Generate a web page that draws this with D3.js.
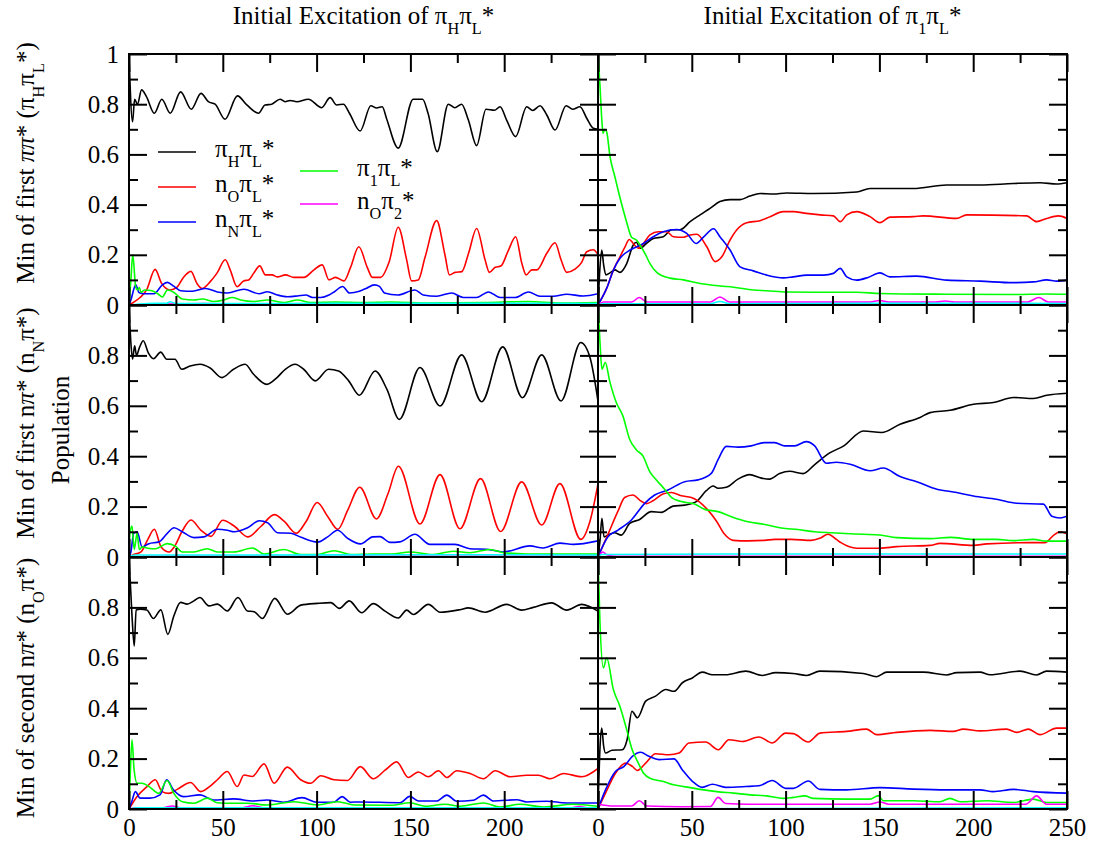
<!DOCTYPE html>
<html><head><meta charset="utf-8">
<script src="https://cdn.jsdelivr.net/npm/d3@7"></script>
<style>
body{margin:0;background:#fff}
svg{display:block}
</style>
</head><body>
<svg id="c" width="1094" height="844" font-family="Liberation Serif"></svg>
<script>
// ---------------- DATA (time in fs, population) ----------------
const xMajor = [0,50,100,150,200,250];
const xMinor = [25,75,125,175,225];
const yMajor = [0,0.2,0.4,0.6,0.8,1];
const yMinor = [0.1,0.3,0.5,0.7,0.9];
const xLabelsLeft = [0,50,100,150,200];
const xLabelsRight = [0,50,100,150,200,250];
const yLabelsTop = [0,0.2,0.4,0.6,0.8,1];
const yLabelsOther = [0,0.2,0.4,0.6,0.8];

const colTitles = ["Initial Excitation of π_Hπ_L*", "Initial Excitation of π_1π_L*"];
const rowTitles = ["Min of first ~ππ~* (π_Hπ_L*)", "Min of first n~π~* (n_Nπ*)", "Min of second n~π~* (n_Oπ*)"];
const legendLabels = ["π_Hπ_L*", "n_Oπ_L*", "n_Nπ_L*", "π_1π_L*", "n_Oπ_2*"];
const seriesNames = ["black","red","blue","green","magenta","cyan"];

// Row 1, left: initial excitation of pi_H pi_L*
const L1_black = [[0,1.0],[1.9,0.73],[3,0.82],[4.5,0.80],[6.7,0.857],[9.3,0.83],[13.5,0.764],[17.5,0.82],[22,0.764],[27.5,0.849],[33.2,0.78],[38.4,0.843],[42.3,0.81],[45.9,0.80],[51.2,0.74],[57.8,0.833],[62.8,0.797],[69,0.764],[72.5,0.797],[76.1,0.80],[80.5,0.82],[83.2,0.81],[85.9,0.815],[89.4,0.81],[95.6,0.82],[102.7,0.786],[107.2,0.826],[110.7,0.797],[114.3,0.80],[117.5,0.764],[123.2,0.693],[128.9,0.794],[132,0.785],[135,0.79],[137.4,0.74],[143.5,0.625],[151.5,0.82],[156.5,0.82],[159.4,0.764],[164.3,0.611],[170.2,0.80],[173.7,0.786],[177.3,0.80],[180.9,0.737],[185.3,0.635],[190.3,0.78],[194.8,0.776],[197.8,0.79],[201.3,0.737],[206.1,0.671],[212,0.79],[215.2,0.775],[219.1,0.794],[222.7,0.757],[227.1,0.697],[233,0.794],[236.5,0.78],[240.4,0.79],[244,0.744],[247.5,0.704],[250,0.70]];
const L1_red = [[0,0],[2.3,0.01],[5.9,0.03],[9.4,0.06],[13.9,0.142],[17.4,0.086],[21.9,0.06],[25.5,0.07],[29,0.11],[33,0.134],[36.2,0.086],[38.9,0.066],[43.3,0.093],[46.9,0.127],[51.3,0.18],[54,0.139],[57.6,0.073],[61.1,0.096],[63.8,0.10],[66.5,0.127],[69.7,0.156],[72.7,0.12],[76.3,0.12],[79,0.112],[83.4,0.12],[87.9,0.11],[93.2,0.11],[98.6,0.14],[103,0.16],[106.6,0.10],[110.1,0.11],[114.6,0.096],[118.1,0.15],[122.5,0.232],[127,0.15],[129.7,0.11],[134.1,0.11],[138.6,0.17],[143.5,0.31],[148,0.18],[150.6,0.096],[154.2,0.10],[157.8,0.19],[164,0.336],[168.4,0.20],[170.8,0.12],[173.8,0.13],[177.4,0.133],[181,0.206],[185.3,0.305],[189.8,0.18],[192.1,0.13],[195.2,0.15],[198.2,0.155],[202.3,0.219],[206.1,0.272],[209.4,0.166],[211.7,0.12],[214.7,0.14],[217.4,0.14],[222.7,0.206],[227.1,0.248],[230.3,0.18],[233.3,0.13],[237.7,0.143],[241.3,0.17],[244,0.212],[247.5,0.22],[250,0.2]];
const L1_blue = [[0,0],[1,0.02],[3.6,0.08],[5.3,0.05],[8,0.045],[13.3,0.045],[17.8,0.08],[20.4,0.09],[24,0.074],[27.5,0.057],[33.8,0.055],[40.9,0.066],[47.1,0.052],[52.4,0.048],[61.3,0.063],[69.3,0.045],[73.8,0.053],[79.1,0.04],[84.5,0.033],[89.8,0.036],[94.3,0.04],[97.8,0.03],[102.3,0.03],[106.6,0.04],[109.5,0.053],[113.9,0.074],[117.5,0.048],[122.8,0.055],[126.4,0.066],[130.8,0.08],[133.5,0.074],[136.2,0.048],[143.3,0.04],[152.4,0.06],[156.8,0.04],[164,0.035],[172,0.048],[178.2,0.03],[185.3,0.03],[191.6,0.052],[197.8,0.03],[205.8,0.03],[212.9,0.052],[219.1,0.035],[226.2,0.035],[233.3,0.043],[242.2,0.036],[250,0.045]];
const L1_green = [[0,0],[1,0.1],[2,0.2],[3.6,0.07],[4.6,0.06],[5.5,0.07],[6.4,0.05],[8.2,0.06],[11.7,0.058],[15.3,0.045],[17.8,0.032],[20.5,0.06],[24,0.05],[28.4,0.024],[34.6,0.02],[39,0.024],[45.3,0.014],[50.6,0.02],[55,0.03],[59.5,0.02],[66.5,0.014],[73.8,0.02],[82.6,0.01],[89.8,0.02],[96.8,0.01],[110,0.012],[125,0.01],[140,0.012],[160,0.008],[190,0.01],[213,0.014],[230,0.008],[250,0.01]];
const L1_magenta = [[0,0],[20,0.004],[40,0.006],[60,0.003],[100,0.004],[150,0.004],[200,0.003],[250,0.004]];
const L1_cyan = [[0,0],[10,0.006],[20,0.007],[22,0.013],[25,0.006],[80,0.006],[150,0.007],[250,0.006]];

// Row 1, right: initial excitation of pi_1 pi_L*
const R1_black = [[0,0.0],[0.8,0.12],[2,0.219],[3,0.16],[4.2,0.12],[6.4,0.128],[9,0.14],[11.7,0.13],[15.3,0.165],[18.8,0.239],[20.5,0.25],[22.4,0.226],[25.9,0.246],[29.5,0.265],[34.8,0.272],[39.3,0.3],[43.7,0.3],[49.1,0.332],[54.4,0.359],[59.7,0.385],[65,0.412],[70.4,0.42],[75.7,0.42],[81,0.434],[86.4,0.444],[93.5,0.442],[100.6,0.446],[114.8,0.444],[137.9,0.45],[145,0.464],[168.1,0.464],[185.9,0.478],[203.7,0.478],[221.4,0.484],[235.7,0.487],[244.5,0.482],[250,0.487]];
const R1_red = [[0,0],[4.6,0.066],[8.2,0.139],[11.7,0.192],[14.4,0.232],[16.7,0.261],[18.8,0.245],[21.5,0.226],[24.2,0.245],[27.7,0.279],[32.2,0.292],[36.6,0.292],[40.2,0.272],[45.5,0.27],[49.1,0.279],[52.6,0.282],[58,0.232],[62.4,0.173],[66,0.192],[70.4,0.259],[73.9,0.299],[79.3,0.328],[86.4,0.336],[91.7,0.352],[98.8,0.372],[104.1,0.372],[111,0.365],[118.4,0.359],[125.5,0.355],[129.1,0.332],[132.6,0.359],[137.9,0.372],[145,0.352],[150.3,0.328],[155.6,0.35],[168.1,0.352],[173.4,0.355],[191.2,0.345],[196.5,0.359],[228.5,0.355],[233.8,0.332],[239.2,0.345],[245.4,0.355],[250,0.345]];
const R1_blue = [[0,0],[4.6,0.066],[8.2,0.139],[11.7,0.186],[17.1,0.219],[20.6,0.232],[24.2,0.245],[29.5,0.272],[34.8,0.292],[41.9,0.301],[47.3,0.285],[52.3,0.245],[56.2,0.27],[61.6,0.304],[65,0.272],[70.4,0.219],[75.7,0.152],[82.8,0.136],[90,0.119],[98.8,0.108],[104,0.112],[111.3,0.119],[120.2,0.119],[125.5,0.126],[129.1,0.146],[132.6,0.112],[137.9,0.099],[144,0.11],[150.3,0.128],[155.6,0.112],[169.9,0.115],[185.9,0.099],[203.7,0.095],[221.4,0.089],[232.1,0.092],[239.2,0.1],[244.5,0.095],[250,0.099]];
const R1_green = [[0,1.0],[1,0.88],[2.2,0.72],[2.7,0.684],[3.5,0.70],[4.6,0.69],[6.4,0.591],[9,0.511],[11.6,0.431],[15.2,0.332],[17.9,0.27],[20.5,0.259],[22.4,0.239],[25,0.206],[27.7,0.165],[31.3,0.13],[38.4,0.107],[45.5,0.1],[54.4,0.086],[65,0.076],[72.2,0.071],[82.8,0.06],[90,0.057],[100.6,0.052],[114.8,0.051],[137.9,0.051],[150.3,0.046],[185.9,0.043],[221.4,0.042],[239.2,0.044],[250,0.043]];
const R1_magenta = [[0,0.0],[3,0.012],[18,0.012],[22,0.03],[26,0.012],[60,0.012],[65,0.032],[70,0.012],[145,0.012],[150,0.018],[155,0.012],[180,0.012],[185,0.016],[190,0.012],[229,0.012],[235,0.03],[240,0.012],[250,0.012]];
const R1_cyan = [[0,0],[3,0.005],[60,0.005],[65,0.014],[70,0.005],[150,0.007],[250,0.006]];

// Row 2, left
const L2_black = [[0,1.0],[1,0.85],[1.9,0.785],[3,0.838],[4,0.8],[5.5,0.83],[7.6,0.858],[10.3,0.81],[13,0.787],[16.9,0.813],[20.1,0.785],[24.5,0.785],[28.1,0.745],[32.6,0.758],[37.9,0.765],[43.3,0.75],[49.5,0.712],[55.7,0.745],[61.9,0.765],[66.4,0.725],[73.5,0.685],[78.9,0.712],[83.3,0.745],[88.6,0.765],[93.1,0.745],[99.3,0.699],[106.4,0.745],[111.7,0.738],[117.1,0.699],[122.8,0.642],[131.2,0.738],[137.5,0.665],[144.1,0.546],[155.1,0.752],[165.8,0.599],[177.3,0.802],[188,0.616],[199.2,0.834],[209.7,0.632],[220,0.802],[230.3,0.619],[240.8,0.851],[245.8,0.79],[250,0.619]];
const L2_red = [[0,0],[2,0.008],[6.4,0.02],[9.9,0.068],[13.5,0.11],[17.1,0.04],[21.5,0.02],[24.1,0.04],[28.6,0.106],[33,0.147],[38.4,0.106],[43.7,0.082],[49.9,0.146],[56.2,0.122],[63.3,0.08],[70.4,0.122],[77.5,0.168],[82.8,0.141],[89.1,0.094],[94.4,0.141],[100.3,0.216],[106,0.16],[111.3,0.11],[116.6,0.186],[123,0.277],[131.9,0.151],[138,0.25],[143.6,0.36],[155.1,0.131],[165.8,0.327],[176.4,0.112],[187.4,0.311],[198.1,0.101],[209.3,0.298],[220,0.127],[229.7,0.291],[240.8,0.07],[245.8,0.144],[250,0.29]];
const L2_blue = [[0,0],[1,0.02],[2.5,0.094],[4.3,0.1],[7,0.04],[10.6,0.053],[16,0.06],[20.4,0.094],[24,0.116],[28.4,0.1],[34.6,0.077],[40,0.08],[47.1,0.11],[52.4,0.106],[56,0.1],[63.2,0.116],[69.4,0.144],[73.9,0.136],[79.2,0.096],[86.3,0.094],[91.7,0.078],[100.5,0.059],[105.9,0.08],[111.2,0.106],[116.6,0.074],[123.4,0.052],[129.9,0.08],[133.8,0.081],[139.1,0.058],[144.4,0.06],[152.4,0.09],[160.4,0.05],[173.7,0.05],[181.7,0.033],[190.6,0.031],[199.5,0.02],[213.7,0.044],[220.8,0.036],[229.7,0.055],[236.8,0.05],[250,0.064]];
const L2_green = [[0,0],[0.5,0.094],[1.6,0.123],[2.8,0.03],[4.3,0.094],[5.5,0.03],[7,0.04],[10,0.035],[14.2,0.033],[20.4,0.053],[24.9,0.042],[28.4,0.02],[34.6,0.02],[41.7,0.033],[47,0.02],[56,0.02],[65.8,0.036],[72,0.012],[82.6,0.03],[91.5,0.01],[100.4,0.01],[109.3,0.025],[118.2,0.01],[130.6,0.012],[140,0.012],[149.7,0.02],[162.2,0.01],[172.8,0.023],[181.7,0.017],[192.3,0.03],[199.5,0.017],[212,0.012],[230,0.012],[250,0.012]];
const L2_magenta = [[0,0],[10,0.003],[100,0.003],[250,0.003]];
const L2_cyan = [[0,0],[3,0.008],[60,0.008],[150,0.009],[250,0.008]];

// Row 2, right
const R2_black = [[0,0.0],[1,0.06],[2.1,0.154],[3.2,0.08],[5.3,0.087],[8.9,0.096],[12.4,0.087],[16.9,0.133],[22.2,0.149],[28.4,0.18],[33.8,0.177],[40,0.202],[46.2,0.206],[52.4,0.22],[57.7,0.263],[61.3,0.282],[64,0.273],[68.4,0.277],[74.6,0.309],[80.8,0.327],[87.1,0.313],[91.5,0.309],[96.8,0.331],[102.2,0.34],[109.3,0.331],[115.5,0.367],[123.5,0.413],[130.8,0.44],[141.5,0.5],[151.2,0.494],[161,0.527],[171.7,0.554],[177,0.573],[187.7,0.582],[200.1,0.606],[210.8,0.613],[221.4,0.633],[232.1,0.629],[239.2,0.642],[250,0.65]];
const R2_red = [[0,0],[5.3,0.09],[10.7,0.183],[14.2,0.236],[18.7,0.246],[22.2,0.226],[25.8,0.212],[29.3,0.223],[34.6,0.25],[39.1,0.256],[44.4,0.243],[49.8,0.236],[53.3,0.223],[58.6,0.186],[63.1,0.143],[67.5,0.09],[72,0.066],[80,0.064],[88.8,0.066],[94.2,0.07],[103,0.07],[113.7,0.066],[118.2,0.074],[122.6,0.09],[127,0.07],[129.5,0.057],[137.9,0.035],[150.3,0.035],[159.2,0.041],[177,0.046],[182.3,0.054],[200.1,0.046],[207.2,0.052],[230.3,0.057],[238.3,0.057],[242.4,0.083],[246.3,0.1],[250,0.092]];
const R2_blue = [[0,0],[5.3,0.08],[10.7,0.107],[17.8,0.147],[24.9,0.213],[30.2,0.246],[37.3,0.266],[46.2,0.299],[53.3,0.306],[60.4,0.332],[64,0.386],[68.4,0.439],[74.6,0.436],[81.7,0.441],[88.8,0.454],[94.2,0.454],[99.5,0.441],[104.8,0.441],[111,0.458],[115.5,0.441],[121.7,0.372],[127,0.376],[134.4,0.368],[145,0.342],[152.1,0.353],[161,0.319],[169.9,0.299],[180.6,0.269],[191.2,0.256],[200.1,0.242],[212.5,0.229],[223.2,0.213],[237.4,0.21],[241.9,0.162],[246.3,0.155],[250,0.162]];
const R2_green = [[0,1.0],[1,0.86],[2.1,0.745],[3.9,0.772],[6.2,0.699],[9.8,0.612],[13.3,0.559],[16.9,0.466],[20.4,0.426],[24,0.4],[27.5,0.34],[31.1,0.306],[35.5,0.269],[39.1,0.237],[44.4,0.22],[51.5,0.21],[56.9,0.189],[64,0.18],[71.1,0.16],[80,0.14],[88.8,0.129],[97.7,0.115],[106.6,0.109],[115.5,0.1],[124.4,0.096],[141.5,0.09],[150.3,0.087],[159.2,0.077],[177,0.073],[187.7,0.078],[200.1,0.07],[212.5,0.07],[221.4,0.065],[232.1,0.07],[239.2,0.063],[250,0.063]];
const R2_magenta = [[0,0.0],[1,0.01],[2.5,0.02],[5,0.008],[10,0.003],[250,0.003]];
const R2_cyan = [[0,0.0],[2,0.01],[100,0.012],[250,0.012]];

// Row 3, left
const L3_black = [[0,1.0],[1.6,0.766],[2.8,0.647],[3.8,0.79],[6,0.793],[9.5,0.79],[13,0.756],[17,0.79],[20.7,0.693],[23.9,0.766],[27.5,0.82],[31,0.813],[34.6,0.826],[37.8,0.839],[42.6,0.806],[47.1,0.813],[52.4,0.786],[58.1,0.839],[63.1,0.786],[66.7,0.783],[71.1,0.756],[77.7,0.836],[84.5,0.773],[91.6,0.809],[100.5,0.816],[107.6,0.819],[112.1,0.796],[117.4,0.826],[124,0.779],[130.2,0.815],[136.5,0.785],[143.6,0.758],[148,0.789],[151.6,0.772],[159.6,0.812],[165.8,0.781],[176.4,0.791],[180.9,0.798],[189.8,0.781],[201.3,0.812],[209.3,0.789],[215.5,0.8],[225.3,0.818],[233.3,0.789],[241.3,0.812],[250,0.785]];
const L3_red = [[0,0],[4.2,0.049],[9.6,0.089],[14,0.116],[17.6,0.069],[21.2,0.062],[25.7,0.078],[32.8,0.105],[38.2,0.069],[43.5,0.092],[47.1,0.116],[52.4,0.149],[57.7,0.089],[61.3,0.135],[65.7,0.129],[72,0.179],[77.3,0.102],[84.4,0.166],[91.5,0.116],[96.8,0.102],[102.2,0.132],[109.3,0.116],[116.4,0.113],[123.3,0.168],[130.2,0.12],[136.5,0.154],[142.7,0.187],[148.9,0.125],[154.2,0.147],[159.6,0.128],[164.9,0.152],[169.4,0.125],[174.7,0.152],[181.8,0.141],[188.9,0.12],[195.2,0.152],[203.2,0.128],[212,0.134],[218.3,0.134],[224.5,0.12],[231.6,0.141],[241.4,0.128],[250,0.161]];
const L3_blue = [[0,0],[1.5,0.03],[3.4,0.069],[5.9,0.043],[11.2,0.043],[16.5,0.056],[20.1,0.116],[23.7,0.076],[29,0.049],[37.9,0.056],[45,0.036],[55.7,0.04],[66.4,0.032],[73.5,0.036],[82.4,0.027],[92.2,0.045],[100.2,0.027],[109.1,0.027],[113.6,0.049],[118,0.027],[123,0.028],[144.4,0.025],[149.7,0.05],[154.2,0.032],[164,0.032],[169.4,0.055],[174.7,0.031],[183.6,0.035],[188.9,0.055],[194.3,0.032],[206.7,0.037],[212,0.028],[222.7,0.031],[233.3,0.024],[250,0.024]];
const L3_green = [[0,0],[0.5,0.102],[1.6,0.275],[2.7,0.157],[4.3,0.102],[6.9,0.102],[11.4,0.085],[15.8,0.062],[20.3,0.113],[23.9,0.062],[28.4,0.029],[34.6,0.023],[41.7,0.043],[47,0.025],[56,0.023],[63.1,0.023],[73.8,0.016],[88,0.029],[100.5,0.016],[111.2,0.029],[120.1,0.016],[140,0.015],[149.7,0.025],[158,0.011],[168.5,0.019],[176.4,0.011],[188.9,0.024],[198,0.008],[208.4,0.019],[221,0.008],[236.8,0.019],[250,0.011]];
const L3_magenta = [[0,0],[5,0.005],[18,0.005],[23,0.012],[28,0.004],[60,0.004],[66,0.013],[72,0.004],[150,0.004],[235,0.004],[240,0.01],[245,0.004],[250,0.004]];
const L3_cyan = [[0,0],[5,0.005],[250,0.005]];

// Row 3, right
const R3_black = [[0,0.0],[1.1,0.249],[2,0.321],[3,0.25],[4,0.222],[7.5,0.233],[12.9,0.235],[15.5,0.275],[18.1,0.388],[21,0.362],[25.4,0.428],[30.7,0.448],[36.1,0.474],[40.5,0.467],[45,0.501],[50.3,0.52],[55.6,0.543],[61,0.533],[68.1,0.533],[78.8,0.547],[87.6,0.53],[94.8,0.541],[104,0.538],[111.2,0.53],[118.3,0.547],[141.4,0.538],[148.5,0.525],[153.9,0.543],[173.4,0.543],[185.8,0.532],[191.2,0.541],[203.6,0.543],[209,0.533],[225,0.547],[233.8,0.532],[239.1,0.547],[250,0.543]];
const R3_red = [[0,0],[4,0.063],[9.4,0.143],[14.7,0.182],[18.3,0.169],[21,0.153],[25.4,0.182],[30.7,0.219],[37.8,0.215],[43.2,0.222],[48.5,0.262],[57.4,0.266],[64.1,0.235],[69.8,0.275],[76.9,0.268],[85.8,0.286],[92.9,0.262],[100,0.301],[104.1,0.299],[112.1,0.266],[118.3,0.301],[132.5,0.308],[143.2,0.317],[148.5,0.295],[159.2,0.304],[177,0.312],[189.4,0.308],[194.7,0.317],[203.6,0.31],[217.8,0.317],[223.2,0.304],[229.4,0.317],[235.6,0.295],[244.5,0.321],[250,0.321]];
const R3_blue = [[0,0],[4,0.076],[9.4,0.15],[13.9,0.169],[18.3,0.209],[22.7,0.225],[27.2,0.209],[32.5,0.196],[40.5,0.199],[45,0.155],[50.3,0.11],[55.6,0.086],[61,0.098],[68.1,0.086],[78.8,0.089],[85.8,0.092],[92.9,0.113],[100,0.082],[104.1,0.082],[112.1,0.111],[118.3,0.078],[132.5,0.076],[150.3,0.085],[168.1,0.079],[185.8,0.076],[203.6,0.076],[210.7,0.069],[221.4,0.078],[232,0.069],[250,0.063]];
const R3_green = [[0,1.0],[1,0.75],[2.9,0.56],[4.6,0.6],[8.2,0.474],[11.7,0.407],[15.3,0.315],[17.9,0.242],[21.5,0.182],[24.2,0.143],[27.7,0.122],[34.8,0.109],[40.2,0.096],[45.5,0.089],[54.4,0.078],[63.3,0.069],[72.2,0.063],[81,0.056],[89.9,0.052],[98.8,0.042],[104.1,0.046],[110.3,0.052],[114.8,0.042],[132.5,0.039],[145,0.039],[149.4,0.053],[152.1,0.033],[168.1,0.033],[182.3,0.029],[187.6,0.042],[193,0.029],[207.2,0.033],[221.4,0.026],[232,0.039],[239.1,0.026],[250,0.026]];
const R3_magenta = [[0,0.02],[8,0.012],[18,0.012],[22,0.033],[26,0.012],[45,0.009],[60,0.01],[64,0.046],[68,0.022],[80,0.019],[145,0.019],[150.3,0.028],[155,0.019],[228,0.019],[233.8,0.052],[239,0.019],[250,0.019]];
const R3_cyan = [[0,0],[250,0.005]];

// ---------------- LAYOUT / STYLE ----------------
const colors = {black:"#000000", red:"#ff0000", blue:"#0000ff", green:"#00ff00", magenta:"#ff00ff", cyan:"#00ffff"};
const FS = 25;
const FONT = "Liberation Serif";
const colX = [[129,598],[598,1067]];
const rowY = [[305,54],[557,305],[809,557]];

const panels = [
  {r:0,c:0,d:{black:L1_black,red:L1_red,blue:L1_blue,green:L1_green,magenta:L1_magenta,cyan:L1_cyan}},
  {r:0,c:1,d:{black:R1_black,red:R1_red,blue:R1_blue,green:R1_green,magenta:R1_magenta,cyan:R1_cyan}},
  {r:1,c:0,d:{black:L2_black,red:L2_red,blue:L2_blue,green:L2_green,magenta:L2_magenta,cyan:L2_cyan}},
  {r:1,c:1,d:{black:R2_black,red:R2_red,blue:R2_blue,green:R2_green,magenta:R2_magenta,cyan:R2_cyan}},
  {r:2,c:0,d:{black:L3_black,red:L3_red,blue:L3_blue,green:L3_green,magenta:L3_magenta,cyan:L3_cyan}},
  {r:2,c:1,d:{black:R3_black,red:R3_red,blue:R3_blue,green:R3_green,magenta:R3_magenta,cyan:R3_cyan}},
];

const svg = d3.select("#c");

// rich text: "_X" = subscript char, "~...~" = italic
function rich(sel, str, fs) {
  const parts = []; let buf = ""; let ital = false;
  for (let i = 0; i < str.length; i++) {
    const ch = str[i];
    if (ch === "_") { if (buf) parts.push({t:buf,sub:false,it:ital}); buf=""; parts.push({t:str[i+1],sub:true,it:ital}); i++; }
    else if (ch === "~") { if (buf) parts.push({t:buf,sub:false,it:ital}); buf=""; ital = !ital; }
    else buf += ch;
  }
  if (buf) parts.push({t:buf,sub:false,it:ital});
  let cur = 0;
  parts.forEach(p => {
    const target = p.sub ? fs*0.38 : 0;
    const ts = sel.append("tspan").attr("dy", target - cur).attr("font-size", p.sub ? fs*0.65 : fs)
      .attr("font-family", FONT).text(p.t);
    if (p.it) ts.attr("font-style","italic");
    cur = target;
  });
}

const defs = svg.append("defs");

panels.forEach((p, i) => {
  const [x0, x1] = colX[p.c];
  const [y0, y1] = rowY[p.r];
  const xs = d3.scaleLinear().domain([0,250]).range([x0,x1]);
  const ys = d3.scaleLinear().domain([0,1]).range([y0,y1]);
  const g = svg.append("g");

  defs.append("clipPath").attr("id","clip"+i).append("rect")
    .attr("x",x0).attr("y",y1).attr("width",x1-x0).attr("height",y0-y1);

  const line = d3.line().x(d => xs(d[0])).y(d => ys(d[1])).curve(d3.curveMonotoneX);
  const lg = g.append("g").attr("clip-path","url(#clip"+i+")");
  seriesNames.forEach(name => {
    lg.append("path").datum(p.d[name]).attr("d", line)
      .attr("fill","none").attr("stroke",colors[name]).attr("stroke-width",1.6)
      .attr("stroke-linejoin","round");
  });

  // ticks (inward on all four sides)
  const tickG = g.append("g");
  const addAxis = (axis, tr) => {
    const a = tickG.append("g").attr("transform", tr).call(axis);
    a.select(".domain").remove();
    a.selectAll("line").attr("stroke","#000").attr("stroke-width",2);
  };
  [[xMajor,18],[xMinor,9]].forEach(([vals,len]) => {
    addAxis(d3.axisBottom(xs).tickValues(vals).tickSize(-len).tickFormat(""), `translate(0,${y0})`);
    addAxis(d3.axisTop(xs).tickValues(vals).tickSize(-len).tickFormat(""), `translate(0,${y1})`);
  });
  [[yMajor,18],[yMinor,9]].forEach(([vals,len]) => {
    addAxis(d3.axisLeft(ys).tickValues(vals).tickSize(-len).tickFormat(""), `translate(${x0},0)`);
    addAxis(d3.axisRight(ys).tickValues(vals).tickSize(-len).tickFormat(""), `translate(${x1},0)`);
  });

  // frame
  g.append("rect").attr("x",x0).attr("y",y1).attr("width",x1-x0).attr("height",y0-y1)
    .attr("fill","none").attr("stroke","#000").attr("stroke-width",2);

  // y tick labels (left column only)
  if (p.c === 0) {
    const vals = p.r === 0 ? yLabelsTop : yLabelsOther;
    const a = g.append("g").attr("transform",`translate(${x0},0)`)
      .call(d3.axisLeft(ys).tickValues(vals).tickSize(0).tickPadding(10)
        .tickFormat(d => (d === 0 || d === 1) ? String(d) : d.toFixed(1)));
    a.select(".domain").remove();
    a.attr("font-family", FONT).attr("font-size", FS);
    a.selectAll("text").attr("font-size",FS).attr("font-family",FONT).attr("fill","#000");
  }
  // x tick labels (bottom row only)
  if (p.r === 2) {
    const vals = p.c === 0 ? xLabelsLeft : xLabelsRight;
    const a = g.append("g").attr("transform",`translate(0,${y0})`)
      .call(d3.axisBottom(xs).tickValues(vals).tickSize(0).tickPadding(9));
    a.select(".domain").remove();
    a.attr("font-family", FONT).attr("font-size", FS);
    a.selectAll("text").attr("font-size",FS).attr("font-family",FONT).attr("fill","#000");
  }
});

// column titles
colTitles.forEach((t, c) => {
  const t0 = svg.append("text").attr("x",(colX[c][0]+colX[c][1])/2).attr("y",24)
    .attr("text-anchor","middle").attr("font-size",FS).attr("font-family",FONT);
  rich(t0, t, FS);
});

// row titles (rotated)
const rowCenters = [163, 423, 688];
rowTitles.forEach((t, r) => {
  const t0 = svg.append("text").attr("transform",`translate(34,${rowCenters[r]}) rotate(-90)`)
    .attr("text-anchor","middle").attr("font-size",FS).attr("font-family",FONT);
  rich(t0, t, FS);
});
svg.append("text").attr("transform","translate(69,430) rotate(-90)")
  .attr("text-anchor","middle").attr("font-size",FS).attr("font-family",FONT).text("Population");

// legend (in top-left panel)
const legendPos = [[158,152],[158,187],[158,222],[300,171],[300,204]];
const legendColors = ["black","red","blue","green","magenta"];
legendLabels.forEach((lab, i) => {
  const [lx, ly] = legendPos[i];
  svg.append("line").attr("x1",lx).attr("x2",lx+38).attr("y1",ly).attr("y2",ly)
    .attr("stroke",colors[legendColors[i]]).attr("stroke-width",1.6);
  const t0 = svg.append("text").attr("x",lx+57).attr("y",ly+5).attr("font-size",FS).attr("font-family",FONT);
  rich(t0, lab, FS);
});
</script>
</body></html>
